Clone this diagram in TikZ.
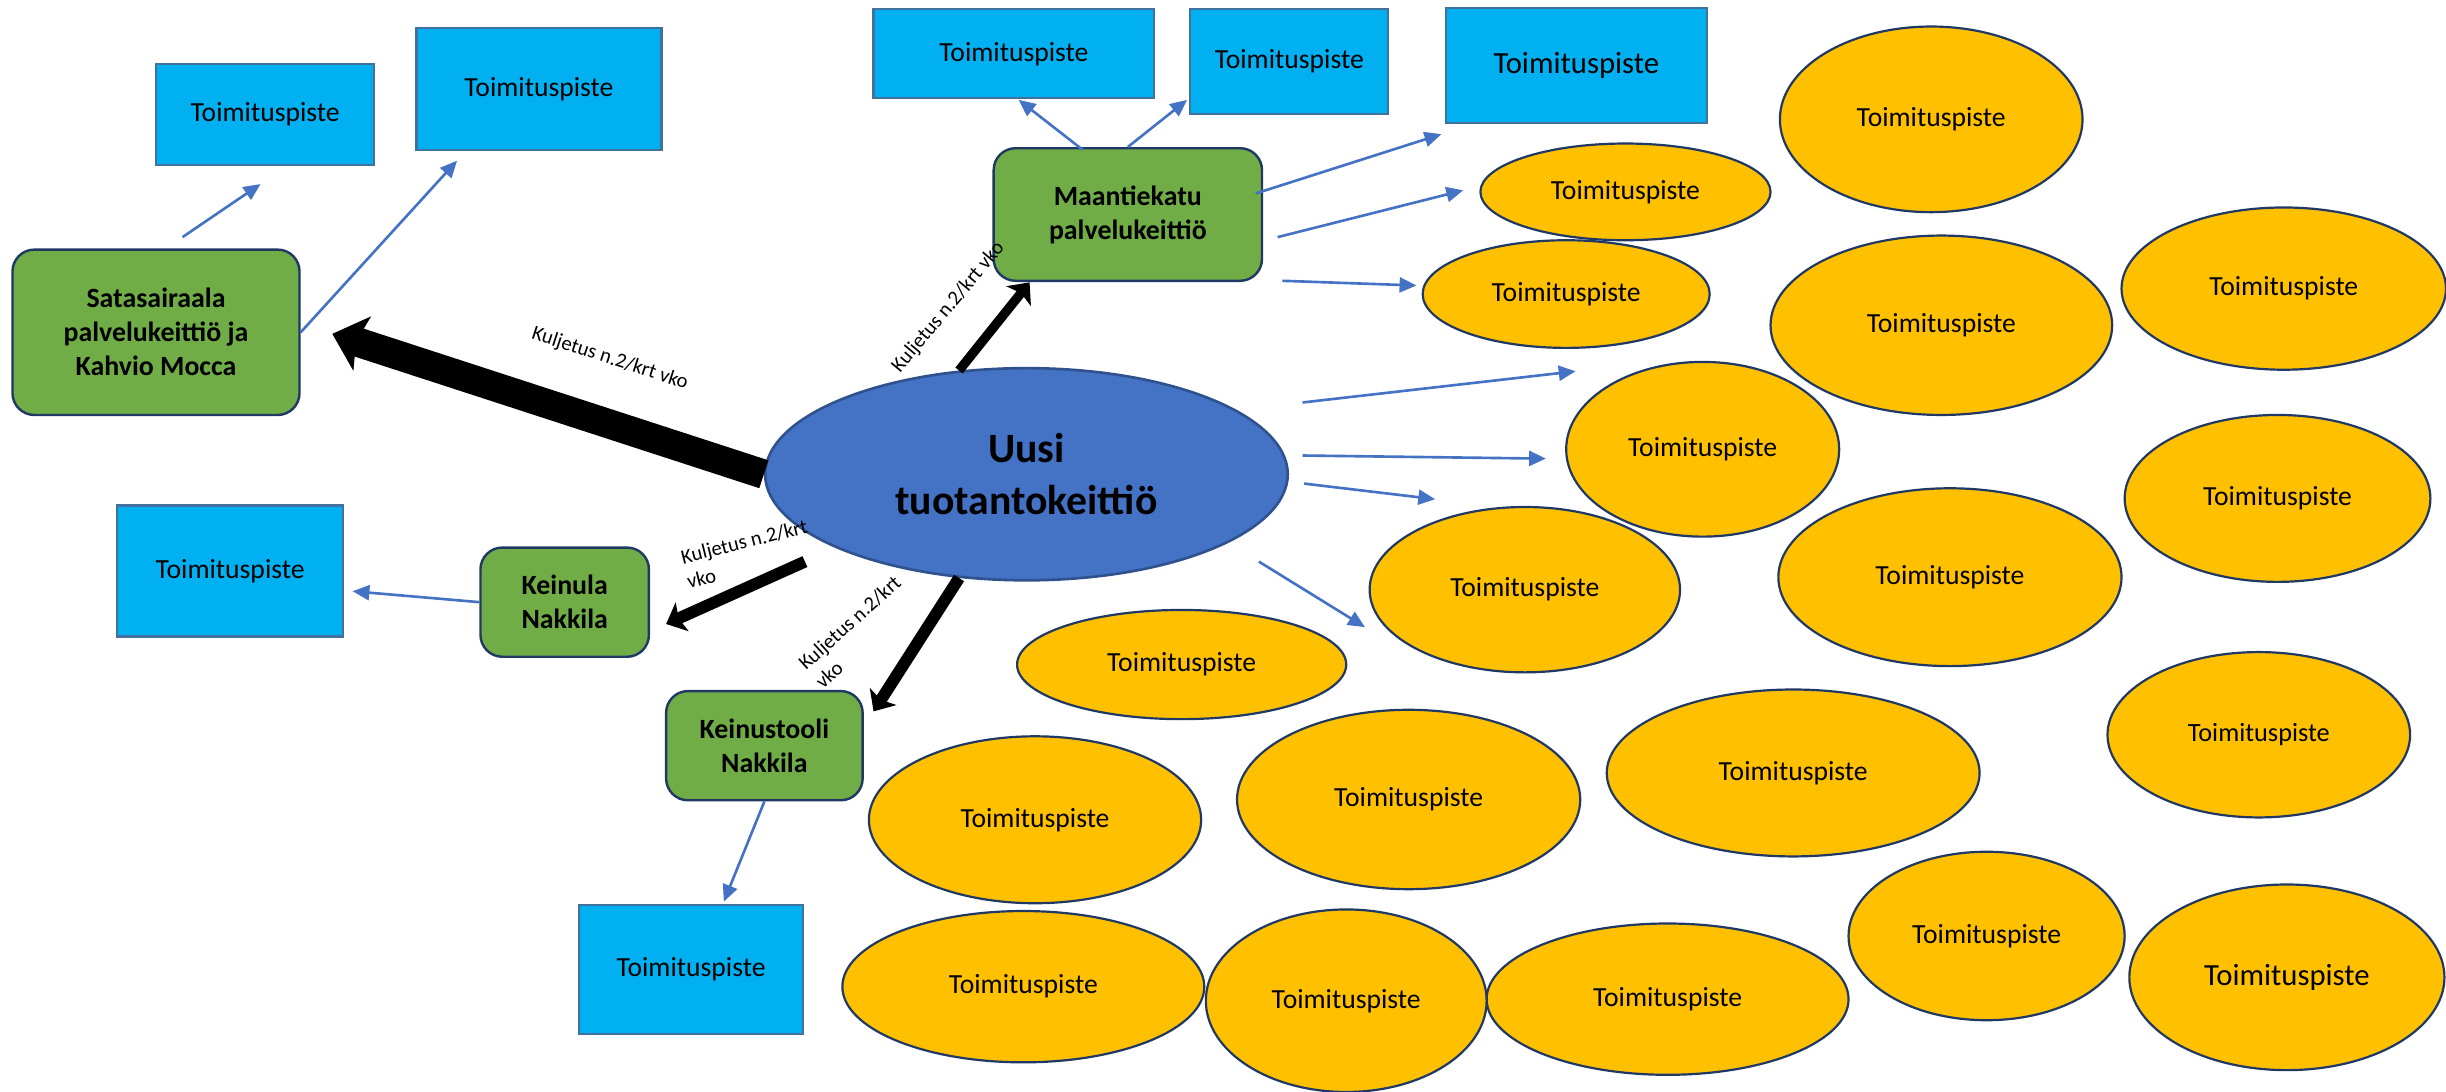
\documentclass[tikz,border=0pt]{standalone}
\usepackage{fontspec}
\setmainfont{Carlito}
\usetikzlibrary{shapes.geometric,arrows.meta}
\definecolor{pointfill}{HTML}{00B0F0}
\definecolor{pointline}{HTML}{41719C}
\definecolor{kitchenfill}{HTML}{70AD47}
\definecolor{navy}{HTML}{1F3864}
\definecolor{mainfill}{HTML}{4472C4}
\definecolor{mainline}{HTML}{2F528F}
\definecolor{sitefill}{HTML}{FFC000}
\definecolor{feed}{HTML}{4472C4}

\tikzset{
  sz/.style 2 args={minimum width=#1*0.025cm, minimum height=#2*0.025cm},
  pointbox/.style={draw=pointline, fill=pointfill, line width=1pt, inner sep=0pt,
    font=\fontsize{12.6}{15}\selectfont},
  kitchen/.style={draw=navy, fill=kitchenfill, line width=1.1pt, rounded corners=0.35cm,
    inner sep=0pt, align=center, font=\bfseries\fontsize{12.7}{15.5}\selectfont},
  site/.style={ellipse, draw=navy, fill=sitefill, line width=1pt, inner sep=0pt,
    font=\fontsize{12.6}{15}\selectfont},
  feedarrow/.style={draw=feed, line width=1.2pt, -{Triangle[length=0.27cm,width=0.24cm]}},
  bighaul/.style={line width=0.47cm, -{Stealth[length=0.5cm,width=0.9cm,inset=0.1cm]}},
  haul/.style={line width=0.19cm, -{Stealth[length=0.28cm,width=0.5cm,inset=0.06cm]}},
  haullabel/.style={inner sep=0pt, font=\fontsize{9.4}{11.5}\selectfont}
}

\begin{document}
\begin{tikzpicture}[x=0.025cm, y=-0.025cm]
  \useasboundingbox (0,0) rectangle (1568,700);

  % kitchens
  \path
  (658,304) node[ellipse, draw=mainline, fill=mainfill, line width=1.2pt, sz={335}{136},
    align=center, font=\bfseries\fontsize{19}{23.5}\selectfont] (uusi) {Uusi\\tuotantokeittiö}
  (100,213) node[kitchen, sz={184}{106}] (sata) {Satasairaala\\palvelukeittiö ja\\Kahvio Mocca}
  (723,137.5) node[kitchen, sz={172}{85}] (maan) {Maantiekatu\\palvelukeittiö}
  (362,386) node[kitchen, sz={108}{70}] (keinu) {Keinula\\Nakkila}
  (490,478) node[kitchen, sz={126}{70}] (stool) {Keinustooli\\Nakkila}
  ;

  % delivery points, boxes
  \path
  (170,73.5) node[pointbox, sz={140}{65}] (pA) {Toimituspiste}
  (345.5,57) node[pointbox, sz={157}{78}] (pB) {Toimituspiste}
  (650,34.5) node[pointbox, sz={180}{57}] (pC) {Toimituspiste}
  (826.5,39.5) node[pointbox, sz={127}{67}] (pD) {Toimituspiste}
  (1010.5,42) node[pointbox, sz={167}{74}, font=\fontsize{14}{16}\selectfont] (pE) {Toimituspiste}
  (147.5,366) node[pointbox, sz={145}{84}] (pF) {Toimituspiste}
  (443,621.5) node[pointbox, sz={144}{83}] (pG) {Toimituspiste}
  ;

  % delivery points, ellipses
  \path
  (1238,76.5) node[site, sz={194}{119}] (s1) {Toimituspiste}
  (1042,123) node[site, sz={186}{62}] (s2) {Toimituspiste}
  (1004,188.5) node[site, sz={184}{69}] (s3) {Toimituspiste}
  (1244.5,208.5) node[site, sz={219}{115}] (s4) {Toimituspiste}
  (1464,185) node[site, sz={208}{104}] (s5) {Toimituspiste}
  (1091.5,288) node[site, sz={175}{112}] (s6) {Toimituspiste}
  (1460,319.5) node[site, sz={196}{107}] (s7) {Toimituspiste}
  (977.5,378) node[site, sz={199}{106}] (s8) {Toimituspiste}
  (1250,370) node[site, sz={220}{114}] (s9) {Toimituspiste}
  (757.5,426) node[site, sz={211}{70}] (s10) {Toimituspiste}
  (1448,471) node[site, sz={194}{106}, font=\fontsize{12}{14}\selectfont] (s11) {Toimituspiste}
  (1149.5,495.5) node[site, sz={239}{107}] (s12) {Toimituspiste}
  (903,512.5) node[site, sz={220}{115}] (s13) {Toimituspiste}
  (663.5,525.5) node[site, sz={213}{107}] (s14) {Toimituspiste}
  (1273.5,600) node[site, sz={177}{108}] (s15) {Toimituspiste}
  (1466,626.5) node[site, sz={202}{119}, font=\fontsize{14}{16}\selectfont] (s16) {Toimituspiste}
  (1069,640.5) node[site, sz={232}{97}] (s17) {Toimituspiste}
  (863,641.5) node[site, sz={180}{117}] (s18) {Toimituspiste}
  (656,632.5) node[site, sz={232}{97}] (s19) {Toimituspiste}
  ;

  % free ends of the arrows
  \path
  (117,152) coordinate (sataup)
  (167,118) coordinate (toA)
  (293,103) coordinate (toB)
  (694,96) coordinate (maanup)
  (653,64) coordinate (toC)
  (761,64) coordinate (toD)
  (805,124) coordinate (maanr1)
  (924,86) coordinate (toE)
  (819,152) coordinate (maanr2)
  (938,122) coordinate (to2)
  (822,180) coordinate (maanr3)
  (908,183) coordinate (to3)
  (835,258) coordinate (uusir1)
  (1010,238) coordinate (to6)
  (835,292) coordinate (uusir2)
  (991,294) coordinate (to6b)
  (836,310) coordinate (uusir3)
  (920,320) coordinate (to8)
  (807,360) coordinate (uusir4)
  (875,402) coordinate (to8b)
  (226,379) coordinate (toF)
  (464,578) coordinate (toG)
  (213,214) coordinate (tosata)
  (660,181) coordinate (tomaan)
  (516,360) coordinate (uusisw)
  (427,400) coordinate (tokeinu)
  (560,456) coordinate (tostool)
  ;

  \draw[feedarrow] (sataup) -- (toA);
  \draw[feedarrow] (sata.east) -- (toB);
  \draw[feedarrow] (maanup) -- (toC);
  \draw[feedarrow] (maan.north) -- (toD);
  \draw[feedarrow] (maanr1) -- (toE);
  \draw[feedarrow] (maanr2) -- (to2);
  \draw[feedarrow] (maanr3) -- (to3);
  \draw[feedarrow] (uusir1) -- (to6);
  \draw[feedarrow] (uusir2) -- (to6b);
  \draw[feedarrow] (uusir3) -- (to8);
  \draw[feedarrow] (uusir4) -- (to8b);
  \draw[feedarrow] (keinu.west) -- (toF);
  \draw[feedarrow] (stool.south) -- (toG);

  \draw[bighaul] (uusi.west) -- (tosata);
  \draw[haul, line width=0.15cm] (uusi.123) -- (tomaan);
  \draw[haul] (uusisw) -- (tokeinu);
  \draw[haul] (uusi.237) -- (tostool);

  \path
  (391,230) node[haullabel, rotate=-18] (l1) {Kuljetus n.2/krt vko}
  (608,197) node[haullabel, rotate=50] (l2) {Kuljetus n.2/krt vko}
  (479,355) node[haullabel, rotate=14, align=left] (l3) {Kuljetus n.2/krt\\vko}
  (550,405) node[haullabel, rotate=42, align=left] (l4) {Kuljetus n.2/krt\\vko}
  ;
\end{tikzpicture}
\end{document}
